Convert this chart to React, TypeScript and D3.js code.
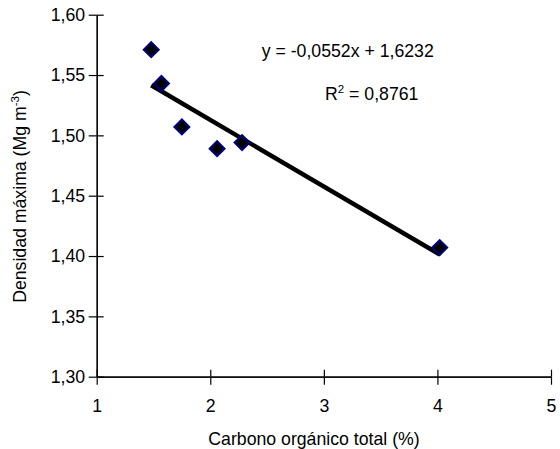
import * as React from 'react';
import * as d3 from 'd3';

// data
const carbono = [1.48, 1.57, 1.75, 2.06, 2.28, 4.02];
const densidad = [1.571, 1.543, 1.507, 1.489, 1.494, 1.407];
const xTicks = [1, 2, 3, 4, 5];
const yTicks = [1.30, 1.35, 1.40, 1.45, 1.50, 1.55, 1.60];
const slope = -0.0552;
const intercept = 1.6232;

const width = 560;
const height = 449;
const margins = { top: 14.7, right: 9, bottom: 72.3, left: 96.7 };
const font = 'Arial, "Liberation Sans", sans-serif';
const fontSize = 17.7;
const fmt = (d: number) => d.toFixed(2).replace('.', ',');

export default function App() {
    const xAxisRef = React.useRef<SVGGElement>(null);
    const xAxis2Ref = React.useRef<SVGGElement>(null);
    const yAxisRef = React.useRef<SVGGElement>(null);
    const yAxis2Ref = React.useRef<SVGGElement>(null);

    const plotWidth = width - margins.left - margins.right;
    const plotHeight = height - margins.top - margins.bottom;

    const xScale = d3.scaleLinear().domain([1, 5]).range([0, plotWidth]);
    const yScale = d3.scaleLinear().domain([1.3, 1.6]).range([plotHeight, 0]);

    React.useEffect(() => {
        const styleAxis = (g: d3.Selection<SVGGElement, unknown, null, undefined>) => {
            g.selectAll('text').attr('font-family', font).attr('font-size', fontSize).attr('fill', '#000');
            g.selectAll('path, line').attr('stroke', '#000').attr('stroke-width', 1.2);
        };

        d3.select(xAxisRef.current!)
            .call(d3.axisBottom(xScale).tickValues(xTicks).tickSize(8).tickPadding(14.5).tickSizeOuter(0).tickFormat(d => String(d)))
            .call(styleAxis);
        d3.select(xAxis2Ref.current!)
            .call(d3.axisTop(xScale).tickValues(xTicks).tickSize(7).tickSizeOuter(0).tickFormat(() => ''))
            .call(styleAxis);
        d3.select(yAxisRef.current!)
            .call(d3.axisLeft(yScale).tickValues(yTicks).tickSize(8).tickPadding(3.5).tickSizeOuter(0).tickFormat(d => fmt(d as number)))
            .call(styleAxis);
        d3.select(yAxis2Ref.current!)
            .call(d3.axisRight(yScale).tickValues(yTicks).tickSize(7).tickSizeOuter(0).tickFormat(() => ''))
            .call(styleAxis);
    }, []);

    const xMin = d3.min(carbono) || 0;
    const xMax = d3.max(carbono) || 0;
    const trend = d3.line<number>()
        .x(d => xScale(d))
        .y(d => yScale(slope * d + intercept));

    const diamond = d3.symbol().type(d3.symbolSquare).size(112)();

    return (
        <svg width={width} height={height} style={{ position: 'absolute', left: 0, top: 0 }}>
            <rect width={width} height={height} fill="#fff" />
            <g transform={`translate(${margins.left},${margins.top})`}>
                <g ref={xAxisRef} transform={`translate(0,${plotHeight})`} />
                <g ref={xAxis2Ref} transform={`translate(0,${plotHeight})`} />
                <g ref={yAxisRef} />
                <g ref={yAxis2Ref} />

                <path d={trend([xMin, xMax]) || ''} fill="none" stroke="#000" strokeWidth={4.5} />

                {carbono.map((c, i) => (
                    <path key={i} d={diamond || ''}
                        transform={`translate(${xScale(c)},${yScale(densidad[i])}) rotate(45)`}
                        fill="#000" stroke="#000080" strokeWidth={2} />
                ))}
            </g>

            <text x={261.7} y={56.7} fontFamily={font} fontSize={fontSize} fill="#000">
                y = -0,0552x + 1,6232
            </text>
            <text x={325} y={100} fontFamily={font} fontSize={fontSize} fill="#000">
                R<tspan fontSize={11.5} dy={-7}>2</tspan><tspan dy={7}> = 0,8761</tspan>
            </text>

            <text x={314} y={445} textAnchor="middle" fontFamily={font} fontSize={fontSize} fill="#000">
                Carbono orgánico total (%)
            </text>
            <text transform="translate(26,196.5) rotate(-90)" textAnchor="middle" fontFamily={font} fontSize={fontSize} fill="#000">
                Densidad máxima (Mg m<tspan fontSize={11.5} dy={-7}>-3</tspan><tspan dy={7}>)</tspan>
            </text>
        </svg>
    );
}
